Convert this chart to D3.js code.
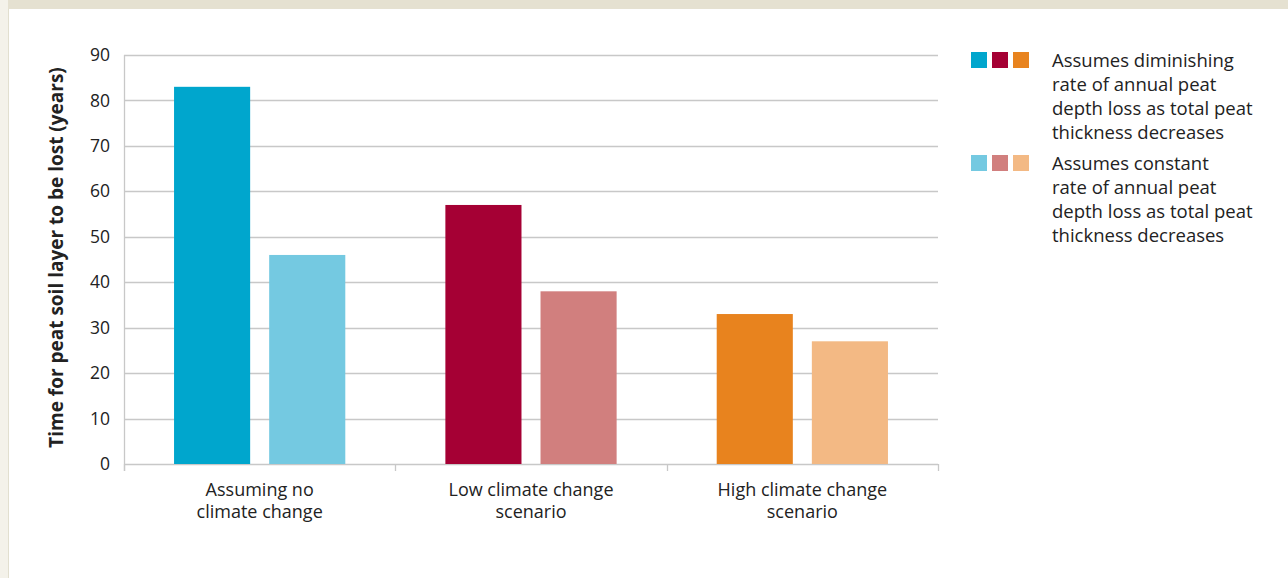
<!DOCTYPE html>
<html>
<head>
<meta charset="utf-8">
<script src="https://cdn.jsdelivr.net/npm/d3@7"></script>
<style>
  body { margin: 0; background: #fff; }
  svg { display: block; font-family: "Open Sans", "Noto Sans", sans-serif; }
</style>
</head>
<body>
<svg id="chart" width="1288" height="578"></svg>
<script>
// chart data
const categories = [["Assuming no", "climate change"], ["Low climate change", "scenario"], ["High climate change", "scenario"]];
const series = ["diminishing", "constant"];
const diminishing = [83, 57, 33];
const constant = [46, 38, 27];
const darkColors = ["#00a6cd", "#a50034", "#e8831e"];
const lightColors = ["#74c9e1", "#d17f7e", "#f3b984"];
const yTicks = [0, 10, 20, 30, 40, 50, 60, 70, 80, 90];
const legendLabels = [
  ["Assumes diminishing", "rate of annual peat", "depth loss as total peat", "thickness decreases"],
  ["Assumes constant", "rate of annual peat", "depth loss as total peat", "thickness decreases"]
];

const svg = d3.select("#chart");

// page frame (beige band top and left)
svg.append("rect").attr("x", 0).attr("y", 0).attr("width", 1288).attr("height", 9).attr("fill", "#e5e1d1");
svg.append("rect").attr("x", 0).attr("y", 0).attr("width", 8).attr("height", 578).attr("fill", "#f4f2ea");
svg.append("line").attr("x1", 8.5).attr("x2", 8.5).attr("y1", 9).attr("y2", 578).attr("stroke", "#e2dfcf");

const plotLeft = 124, plotRight = 938, plotTop = 55, plotBottom = 464;

const x = d3.scaleBand().domain(d3.range(categories.length)).range([plotLeft, plotRight]);
const y = d3.scaleLinear().domain([0, 90]).range([plotBottom, plotTop]);

// gridlines
svg.append("g")
  .selectAll("line")
  .data(yTicks)
  .enter()
  .append("line")
  .attr("x1", plotLeft).attr("x2", plotRight)
  .attr("y1", d => Math.round(y(d)) + 0.5).attr("y2", d => Math.round(y(d)) + 0.5)
  .attr("stroke", "#c8c8c8").attr("stroke-width", 1.3);

// y axis
const yAxis = svg.append("g")
  .attr("transform", `translate(${plotLeft},0)`)
  .call(d3.axisLeft(y).tickValues(yTicks).tickSize(0).tickPadding(14));
yAxis.select(".domain").remove();
yAxis.selectAll("text").attr("font-size", 17.5).attr("fill", "#222").attr("font-family", "Open Sans, sans-serif");
svg.append("line").attr("x1", plotLeft + 0.5).attr("x2", plotLeft + 0.5).attr("y1", plotTop).attr("y2", plotBottom + 7)
  .attr("stroke", "#c8c8c8").attr("stroke-width", 1.3);

// x axis ticks
svg.append("g")
  .selectAll("line")
  .data([plotLeft, ...categories.map((c, i) => x(i) + x.bandwidth())])
  .enter()
  .append("line")
  .attr("x1", d => Math.round(d) + 0.5).attr("x2", d => Math.round(d) + 0.5)
  .attr("y1", plotBottom).attr("y2", plotBottom + 7)
  .attr("stroke", "#c8c8c8").attr("stroke-width", 1.3);

// bars
const inner = d3.scaleBand().domain(series).range([0, x.bandwidth()]).paddingInner(0.2).paddingOuter(0.526);
const barData = [];
categories.forEach((c, i) => {
  barData.push({ cat: i, s: "diminishing", v: diminishing[i], color: darkColors[i] });
  barData.push({ cat: i, s: "constant", v: constant[i], color: lightColors[i] });
});
svg.append("g")
  .selectAll("rect")
  .data(barData)
  .enter()
  .append("rect")
  .attr("x", d => x(d.cat) + inner(d.s))
  .attr("width", inner.bandwidth())
  .attr("y", d => y(d.v))
  .attr("height", d => y(0) - y(d.v))
  .attr("fill", d => d.color);

// category labels
const catText = svg.append("g")
  .selectAll("text")
  .data(categories)
  .enter()
  .append("text")
  .attr("text-anchor", "middle")
  .attr("font-size", 18)
  .attr("fill", "#222");
catText.each(function(lines, i) {
  d3.select(this).selectAll("tspan")
    .data(lines)
    .enter()
    .append("tspan")
    .attr("x", x(i) + x.bandwidth() / 2)
    .attr("y", (d, j) => 496 + j * 22)
    .text(d => d);
});

// y axis title
svg.append("text")
  .attr("transform", `translate(63,${(plotTop + plotBottom) / 2 - 2}) rotate(-90)`)
  .attr("text-anchor", "middle")
  .attr("font-size", 19)
  .attr("font-weight", "bold")
  .attr("fill", "#222")
  .text("Time for peat soil layer to be lost (years)");

// legend
const legend = svg.append("g");
[darkColors, lightColors].forEach((cols, r) => {
  const gy = 52 + r * 103;
  legend.selectAll(null)
    .data(cols)
    .enter()
    .append("rect")
    .attr("x", (d, k) => 971 + k * 21)
    .attr("y", gy)
    .attr("width", 16).attr("height", 16)
    .attr("fill", d => d);
  legend.append("text")
    .attr("font-size", 18.5)
    .attr("fill", "#222")
    .selectAll("tspan")
    .data(legendLabels[r])
    .enter()
    .append("tspan")
    .attr("x", 1052)
    .attr("y", (d, j) => gy + 15 + j * 24)
    .text(d => d);
});
</script>
</body>
</html>
